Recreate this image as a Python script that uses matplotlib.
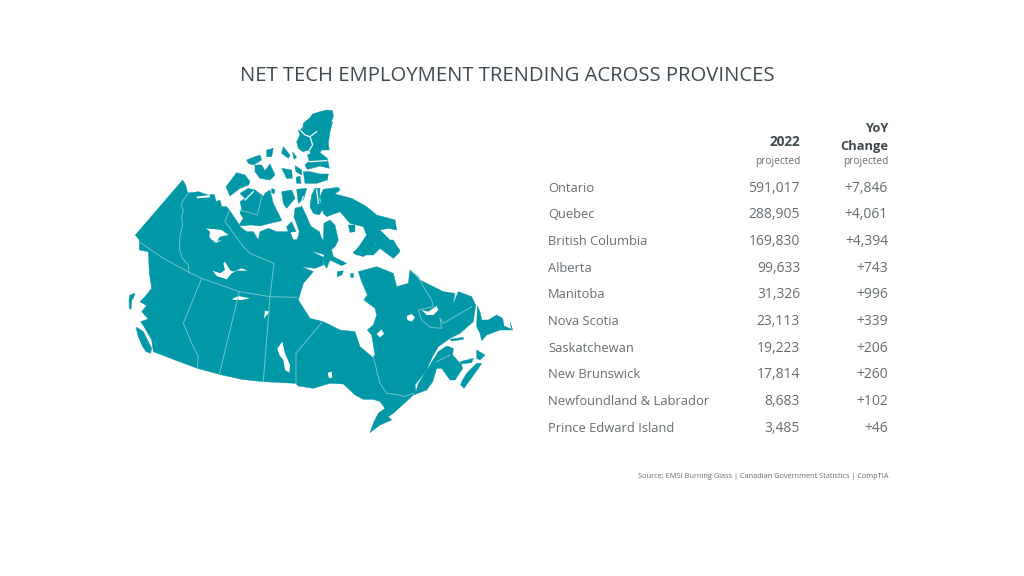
import matplotlib
matplotlib.use("Agg")
import matplotlib.pyplot as plt

TEAL = "#0097A7"
LINE = "#6FC3CC"
DARK = "#3F4A50"
GREY = "#666D72"
plt.rcParams['font.family'] = ['Open Sans', 'DejaVu Sans']

TITLE = "NET TECH EMPLOYMENT TRENDING ACROSS PROVINCES"
provinces = ["Ontario", "Quebec", "British Columbia", "Alberta", "Manitoba", "Nova Scotia",
             "Saskatchewan", "New Brunswick", "Newfoundland & Labrador", "Prince Edward Island"]
jobs_2022 = ["591,017", "288,905", "169,830", "99,633", "31,326", "23,113", "19,223", "17,814", "8,683", "3,485"]
yoy_change = ["+7,846", "+4,061", "+4,394", "+743", "+996", "+339", "+206", "+260", "+102", "+46"]
row_baseline = [191.5, 218.5, 245, 272, 298.5, 325, 352, 378.5, 405, 432]
SOURCE = "Source: EMSI Burning Glass | Canadian Government Statistics | CompTIA"

def c1(*p): return [(120 + x / 3, 100 + y / 3) for x, y in p]
def c2(*p): return [(220 + x / 3, 100 + y / 3) for x, y in p]
def c3(*p): return [(120 + x / 3, 240 + y / 3) for x, y in p]
def c4(*p): return [(280 + x / 3, 240 + y / 3) for x, y in p]

mainland = (
    c1((188, 240), (46, 405), (58, 420), (58, 450), (85, 455))
    + c3((88, 100), (95, 145), (75, 170), (60, 185), (80, 197), (65, 215), (85, 237), (62, 245), (72, 260), (95, 300), (100, 335),
         (165, 360), (232, 385), (298, 403), (365, 418), (430, 425), (527, 430))
    + c4((55, 438), (100, 445), (150, 430), (190, 432), (225, 465), (250, 478), (280, 478), (300, 485), (315, 505),
         (295, 520), (282, 545), (270, 578), (300, 555), (335, 540), (325, 530), (340, 520), (400, 465), (440, 450), (458, 425),
         (470, 385), (485, 385), (510, 420), (525, 420), (548, 385), (545, 375), (518, 345), (520, 325), (500, 318),
         (475, 335), (450, 375), (415, 430), (408, 455), (405, 435), (440, 390), (455, 355), (475, 320), (510, 295),
         (540, 280), (580, 245), (587, 195), (575, 170), (535, 155), (518, 195), (525, 160), (490, 155), (450, 135),
         (420, 120), (390, 90), (385, 130), (350, 140), (340, 100), (290, 80), (235, 95), (245, 125), (262, 165), (252, 180),
         (285, 205), (290, 225), (280, 255), (262, 270), (275, 285), (285, 345), (278, 352), (240, 320), (225, 275),
         (180, 270), (130, 245), (90, 235), (55, 180), (70, 130), (100, 95), (65, 80), (105, 85), (130, 75), (130, 50))
    + c2((316, 475), (272, 452), (316, 465), (345, 440), (355, 420), (345, 375), (330, 360), (312, 370), (310, 420),
         (305, 415), (298, 395), (282, 385), (272, 378), (258, 345), (245, 318), (225, 325), (222, 350), (238, 395),
         (232, 418), (220, 420), (210, 395), (200, 395), (170, 395), (145, 385), (120, 395), (115, 420), (100, 395),
         (80, 395), (60, 380))
    + c1((355, 370), (345, 355), (335, 340), (320, 320), (305, 320), (300, 300), (288, 305), (283, 283), (265, 285),
         (235, 275), (215, 278), (203, 278), (197, 255))
)

islands = [
    c2((338, 32), (340, 50), (332, 70), (338, 65), (330, 95), (325, 130), (328, 150), (305, 150), (300, 158), (322, 175),
       (328, 205), (300, 198), (275, 205), (262, 208), (255, 195), (268, 182), (262, 165), (272, 160), (268, 150), (248, 155),
       (235, 145), (230, 125), (240, 105), (235, 90), (248, 85), (250, 70), (268, 55), (278, 42), (300, 35), (322, 30)),
    c2((250, 215), (270, 215), (300, 222), (325, 222), (322, 240), (290, 250), (255, 250)),
    c2((80, 180), (105, 170), (120, 165), (125, 180), (100, 195), (85, 190)),
    c2((105, 195), (125, 195), (135, 212), (150, 192), (165, 225), (150, 240), (120, 235), (105, 215)),
    c2((140, 150), (160, 145), (155, 170), (140, 170)),
    c2((190, 140), (210, 165), (205, 175), (185, 160)),
    c2((218, 155), (230, 172), (222, 178)),
    c2((225, 197), (245, 210), (245, 225), (228, 215)),
    c2((228, 232), (240, 228), (243, 250), (230, 250)),
    c2((185, 205), (215, 210), (217, 235), (200, 235)),
    c2((18, 260), (50, 218), (75, 225), (90, 245), (85, 255), (60, 265), (30, 288)),
    c2((60, 280), (85, 265), (105, 270), (125, 285), (130, 290), (135, 280), (150, 270), (160, 310), (180, 350), (185, 362),
       (150, 370), (120, 378), (95, 375), (55, 378), (70, 355), (60, 340), (65, 325), (60, 305), (75, 295)),
    c2((185, 275), (215, 270), (225, 295), (200, 325), (190, 310)),
    c2((230, 268), (260, 265), (250, 300), (235, 310)),
    c2((155, 265), (165, 270), (163, 282), (155, 278)),
    c2((270, 320), (275, 285), (285, 265), (300, 265), (298, 300), (310, 325), (298, 345), (280, 340)),
    c2((300, 290), (310, 268), (330, 265), (355, 262), (360, 270), (345, 282), (395, 295), (440, 320), (470, 345), (525, 360),
       (530, 390), (505, 385), (480, 390), (510, 420), (540, 450), (520, 455), (480, 445), (465, 430), (470, 445),
       (455, 450), (430, 470), (400, 460), (420, 435), (440, 405), (430, 380), (390, 370), (360, 335), (320, 350),
       (310, 340)),
    c2((200, 380), (215, 365), (228, 395), (205, 397)),
    c2((385, 375), (405, 375), (405, 395), (390, 397)),
    c2((315, 440), (335, 450), (340, 470), (380, 490), (365, 497), (330, 480), (320, 505), (310, 490)),
    c4((220, 35), (250, 25), (280, 30), (300, 0), (340, 0), (360, 35), (340, 55), (300, 25), (280, 45), (230, 45)),
    c4((172, 95), (190, 92), (185, 105), (172, 110)),
    c4((212, 100), (220, 100), (220, 113), (212, 112)),
    c4((592, 198), (600, 215), (605, 240), (625, 240), (650, 225), (668, 235), (672, 258), (695, 268), (690, 245), (698, 270),
       (660, 270), (620, 285), (605, 302), (600, 280), (590, 260)),
    c4((545, 425), (560, 400), (590, 370), (605, 370), (595, 385), (570, 420), (552, 445), (542, 435)),
    c4((590, 330), (615, 345), (600, 360), (590, 355)),
    c4((540, 365), (580, 355), (575, 368), (545, 372)),
    c4((510, 298), (550, 292), (550, 298), (515, 303)),
    c3((30, 165), (45, 160), (40, 175), (35, 180), (33, 208), (28, 205), (27, 180)),
    c3((48, 262), (55, 265), (70, 275), (85, 305), (95, 325), (92, 340), (78, 335), (68, 320), (55, 290)),
]

lakes = [
    c3((278, 92), (290, 108), (320, 118), (335, 100), (350, 92), (383, 92), (365, 85), (340, 95), (330, 90), (315, 65), (310, 70),
       (315, 90), (300, 100)),
    c3((335, 178), (355, 168), (390, 175), (365, 180), (345, 180)),
    c3((425, 245), (440, 225), (450, 215), (435, 212), (432, 235)),
    c3((472, 325), (487, 305), (495, 340), (510, 375), (508, 398), (495, 390), (490, 360), (478, 345)),
    c1((258, 385), (305, 390), (325, 405), (300, 410), (290, 425), (275, 420), (268, 410), (270, 395)),
    c4((380, 228), (395, 222), (405, 232), (395, 245), (382, 240)),
    c4((425, 210), (445, 215), (470, 198), (475, 210), (460, 225), (440, 225)),
    c4((290, 282), (305, 268), (312, 282), (300, 292)),
    c4((143, 398), (155, 395), (157, 412), (147, 415)),
    c1((228, 290), (270, 285), (270, 292), (232, 295)),
    c3((278, 5), (305, 0), (290, 8)),
    c4((250, 235), (258, 230), (258, 242)),
]

white_streaks = [
    c2((238, 88), (255, 105), (270, 110), (290, 95)),
    c2((270, 110), (278, 135), (268, 150)),
    c2((268, 185), (320, 182)),
    c2((75, 300), (100, 275)),
    c2((250, 290), (240, 320)),
    c2((290, 270), (295, 310)),
]

borders = [
    c1((205, 280), (190, 300), (183, 315), (190, 330), (185, 350), (187, 375), (180, 410), (178, 445), (187, 475), (205, 495), (207, 520)),
    c3((57, 5), (130, 55), (207, 97), (245, 115), (358, 155), (450, 170), (530, 172)),
    c3((245, 115), (190, 250), (215, 310), (235, 350), (232, 385)),
    c3((358, 155), (298, 403)),
    c1((327, 335), (315, 365), (370, 440), (390, 460), (462, 490)) + c3((462, 70), (450, 170), (430, 425)),
    c4((48, 430), (48, 340), (125, 248)),
    c4((280, 350), (300, 430), (320, 460), (360, 465), (370, 470), (400, 460)),
    c4((470, 365), (510, 345)),
    c4((390, 90), (415, 110), (430, 140), (455, 180), (460, 200), (415, 210), (425, 240), (450, 262), (485, 265), (480, 235),
       (490, 250), (575, 200)),
    c1((425, 290), (412, 345), (360, 330)),
]

fig = plt.figure(figsize=(10.24, 5.76), dpi=100, facecolor="white")
ax = fig.add_axes([0, 0, 1, 1])
ax.set_xlim(0, 1024)
ax.set_ylim(576, 0)
ax.axis("off")

ax.fill(*zip(*mainland), color=TEAL, lw=0.3)
for poly in islands:
    ax.fill(*zip(*poly), color=TEAL, lw=0.3)
for poly in lakes:
    ax.fill(*zip(*poly), color="white", lw=0)
for line in white_streaks:
    ax.plot(*zip(*line), color="white", lw=0.9)
for line in borders:
    ax.plot(*zip(*line), color=LINE, lw=0.7)

ax.text(507, 81, TITLE, ha="center", va="baseline", fontsize=14.6, color=DARK)
ax.text(800, 146, "2022", ha="right", va="baseline", fontsize=9.8, fontweight="bold", color=DARK)
ax.text(800, 164, "projected", ha="right", va="baseline", fontsize=7.3, color=GREY)
ax.text(888, 132.5, "YoY", ha="right", va="baseline", fontsize=9.3, fontweight="bold", color=DARK)
ax.text(888, 150, "Change", ha="right", va="baseline", fontsize=9.3, fontweight="bold", color=DARK)
ax.text(888, 164, "projected", ha="right", va="baseline", fontsize=7.3, color=GREY)
for y, name, jobs, change in zip(row_baseline, provinces, jobs_2022, yoy_change):
    ax.text(548, y, name, ha="left", va="baseline", fontsize=9.3, color=GREY)
    ax.text(800, y, jobs, ha="right", va="baseline", fontsize=10, color=GREY)
    ax.text(888, y, change, ha="right", va="baseline", fontsize=10, color=GREY)
ax.text(888, 478, SOURCE, ha="right", va="baseline", fontsize=5.3, color=GREY)

fig.savefig("out.png", dpi=100, facecolor="white")
